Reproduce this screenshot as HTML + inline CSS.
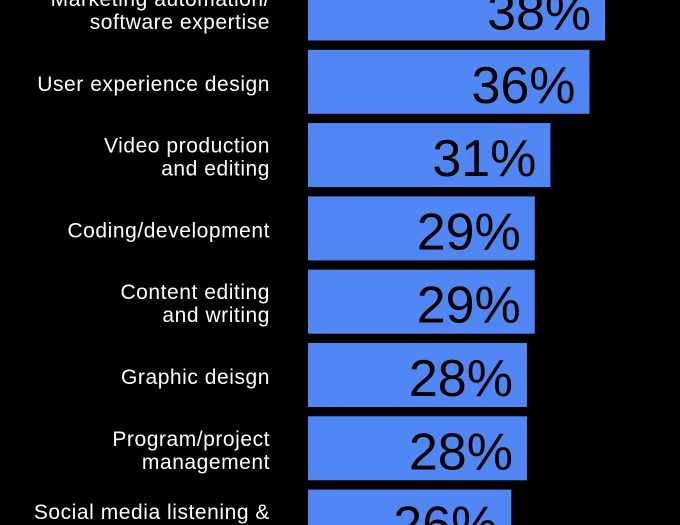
<!DOCTYPE html>
<html><head><meta charset="utf-8"><style>
html,body{margin:0;padding:0;background:#000;}
body{width:680px;height:525px;overflow:hidden;position:relative;}
svg{display:block;overflow:hidden}
</style></head><body>
<svg id="chart" width="680" height="525" viewBox="0 0 680 525" xmlns="http://www.w3.org/2000/svg"></svg>
<script>
const categories = [
  ["Marketing automation/","software expertise"],
  ["User experience design"],
  ["Video production","and editing"],
  ["Coding/development"],
  ["Content editing","and writing"],
  ["Graphic deisgn"],
  ["Program/project","management"],
  ["Social media listening &"]
];
const values = [38, 36, 31, 29, 29, 28, 28, 26];
const valueLabels = ["38%","36%","31%","29%","29%","28%","28%","26%"];

const svg = document.getElementById('chart');
const NS = 'http://www.w3.org/2000/svg';
const x0 = 308, pxPer = 7.82;
const xScale = v => x0 + v * pxPer;
const rowTop = i => -23.5 + i * 73.3;
const barH = 64;

values.forEach((v, i) => {
  const y = rowTop(i);
  const r = document.createElementNS(NS, 'rect');
  r.setAttribute('x', x0);
  r.setAttribute('y', y);
  r.setAttribute('width', xScale(v) - x0);
  r.setAttribute('height', barH);
  r.setAttribute('fill', '#5087f5');
  
  
  svg.appendChild(r);

  const t = document.createElementNS(NS, 'text');
  t.setAttribute('x', xScale(v) - 14);
  t.setAttribute('y', y + 53);
  t.setAttribute('text-anchor', 'end');
  t.setAttribute('font-family', 'Liberation Sans, sans-serif');
  t.setAttribute('font-size', '52');
  t.setAttribute('font-weight', '300');
  t.setAttribute('fill', '#000');
  t.textContent = valueLabels[i];
  
  
  svg.appendChild(t);

  const lines = categories[i];
  const lab = document.createElementNS(NS, 'text');
  lab.setAttribute('text-anchor', 'end');
  lab.setAttribute('font-family', 'Liberation Sans, sans-serif');
  lab.setAttribute('font-size', '21');
  lab.setAttribute('letter-spacing', '0.55');
  lab.setAttribute('fill', '#fff');
  
  
  const mid = y + barH / 2;
  const startY = mid + 9 - (categories[i].length - 1) * 11.5 - (i === 7 ? 11.5 : 0);
  lines.forEach((ln, j) => {
    const ts = document.createElementNS(NS, 'tspan');
    ts.setAttribute('x', 270);
    ts.setAttribute('y', startY + j * 23);
    ts.textContent = ln;
    lab.appendChild(ts);
  });
  svg.appendChild(lab);
});
</script>
</body></html>
